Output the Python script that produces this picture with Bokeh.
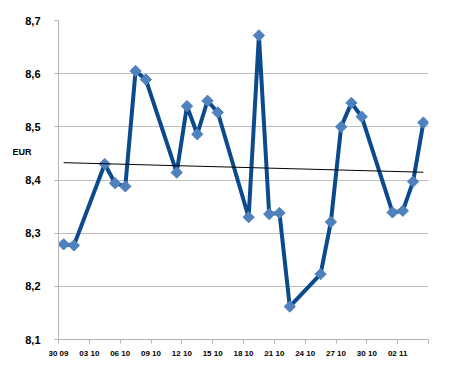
import numpy as np
import pandas as pd
from bokeh.plotting import figure
from bokeh.models import FixedTicker, CustomJSTickFormatter, Range1d, LinearAxis
from bokeh.embed import file_html
from bokeh.resources import INLINE

# ---- data ----
dates = ["2010-09-30", "2010-10-01", "2010-10-04", "2010-10-05", "2010-10-06",
         "2010-10-07", "2010-10-08", "2010-10-11", "2010-10-12", "2010-10-13",
         "2010-10-14", "2010-10-15", "2010-10-18", "2010-10-19", "2010-10-20",
         "2010-10-21", "2010-10-22", "2010-10-25", "2010-10-26", "2010-10-27",
         "2010-10-28", "2010-10-29", "2010-11-01", "2010-11-02", "2010-11-03",
         "2010-11-04"]
rates = [8.279, 8.277, 8.430, 8.394, 8.388, 8.605, 8.589, 8.414, 8.539, 8.486,
         8.549, 8.527, 8.330, 8.672, 8.336, 8.338, 8.162, 8.223, 8.321, 8.500,
         8.545, 8.519, 8.339, 8.342, 8.397, 8.508]
tick_labels = ["30 09", "03 10", "06 10", "09 10", "12 10", "15 10", "18 10",
               "21 10", "24 10", "27 10", "30 10", "02 11", ""]
y_ticks = [8.1, 8.2, 8.3, 8.4, 8.5, 8.6, 8.7]
y_label = "EUR"
y_label_at = 8.4525  # height of the unit label on the value scale

start = pd.Timestamp(dates[0])
days = np.array([(pd.Timestamp(d) - start).days for d in dates], dtype=float)
xs = days + 0.5  # centre of each day slot
vals = np.array(rates)

# linear trend line
k, b = np.polyfit(days, vals, 1)
tx = np.array([days[0], days[-1]]) + 0.5
ty = k * np.array([days[0], days[-1]]) + b

p = figure(width=447, height=360, output_backend="svg", toolbar_location=None,
           x_range=Range1d(0, 36), y_range=Range1d(8.1, 8.7),
           min_border_left=58, min_border_right=19, min_border_top=20,
           min_border_bottom=20)
p.outline_line_color = None
p.background_fill_color = "white"
p.border_fill_color = "white"

# axes
xt = list(range(0, 37, 3))
p.xaxis.ticker = FixedTicker(ticks=xt)
p.xaxis.major_label_overrides = {t: lab for t, lab in zip(xt, tick_labels)}
p.yaxis.ticker = FixedTicker(ticks=y_ticks)
p.yaxis.formatter = CustomJSTickFormatter(code="return tick.toFixed(1).replace('.', ',');")

for ax in (p.xaxis[0], p.yaxis[0]):
    ax.axis_line_color = "#B3B3B3"
    ax.major_tick_line_color = "#B3B3B3"
    ax.major_tick_out = 4
    ax.major_tick_in = 0
    ax.minor_tick_line_color = None
    ax.major_label_text_font = "Liberation Sans"
    ax.major_label_text_font_style = "bold"
    ax.major_label_text_color = "#000000"

p.yaxis.major_label_text_font_size = "11px"
p.yaxis.major_label_standoff = 14
p.xaxis.major_label_text_font_size = "8px"
p.xaxis.major_label_standoff = 5

# unit label drawn as the single tick label of a bare outer axis
unit_axis = LinearAxis(ticker=FixedTicker(ticks=[y_label_at]),
                       formatter=CustomJSTickFormatter(args=dict(t=y_label),
                                                       code="return t;"),
                       axis_line_color=None, major_tick_line_color=None,
                       minor_tick_line_color=None,
                       major_tick_out=0, major_tick_in=0,
                       major_label_standoff=-9,
                       major_label_text_font="Liberation Sans",
                       major_label_text_font_style="bold",
                       major_label_text_font_size="9px",
                       major_label_text_color="#000000")
p.add_layout(unit_axis, "left")

p.xgrid.grid_line_color = None
p.ygrid.grid_line_color = "#BEBEBE"
p.ygrid.grid_line_width = 1

# data
p.line(xs, vals, line_color="#0B4A8C", line_width=4, line_join="round")
p.scatter(xs, vals, marker="square", size=8, angle=np.pi / 4,
          fill_color="#4F81BD", line_color="#4F81BD")
p.line(tx, ty, line_color="#000000", line_width=1)

open("out.html", "w").write(file_html(p, INLINE))
